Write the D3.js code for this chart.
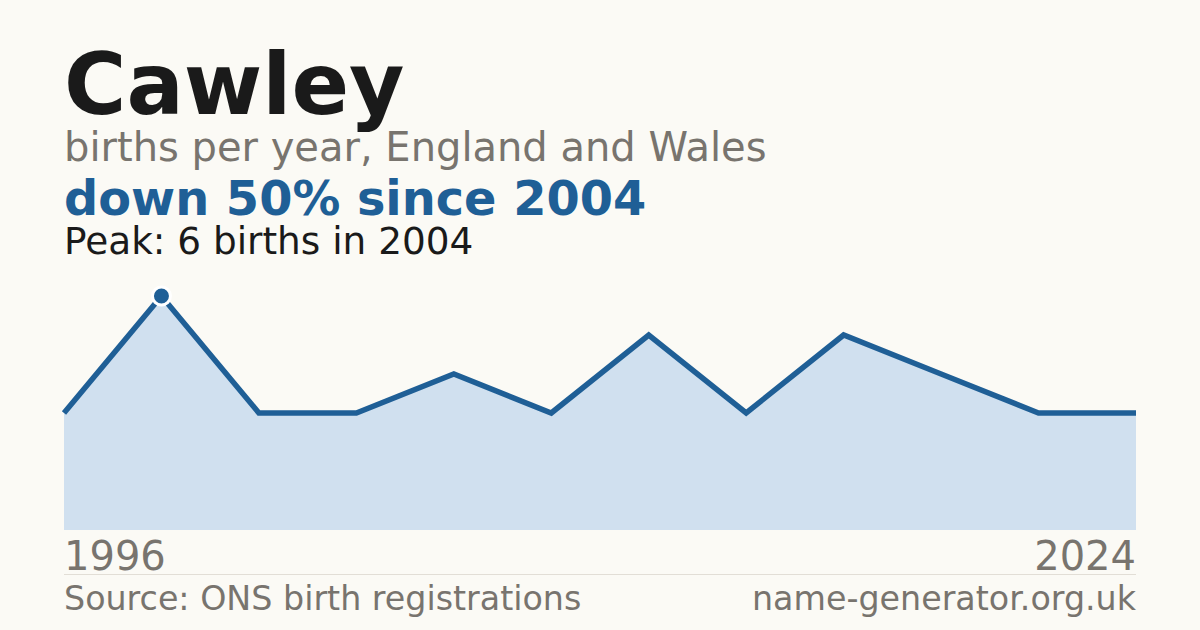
<!DOCTYPE html>
<html>
<head>
<meta charset="utf-8">
<script src="https://cdn.jsdelivr.net/npm/d3@7"></script>
<style>
  html, body { margin: 0; padding: 0; background: #fbfaf5; }
  svg { display: block; font-family: "DejaVu Sans", sans-serif; }
</style>
</head>
<body>
<div class="chart"></div>
<script>
// years with registered births (index-spaced, as in the original)
const years = [1996, 2004, 2006, 2008, 2010, 2012, 2014, 2016, 2018, 2020, 2022, 2024];
const births = [3, 6, 3, 3, 4, 3, 5, 3, 5, 4, 3, 3];
const axisLabels = ['1996', '2024'];

const width = 1200;
const height = 630;
const margin = { top: 296, right: 64, bottom: 100, left: 64 };

const data = years.map((year, i) => ({ year, value: births[i] }));
const peak = data.reduce((a, b) => (b.value > a.value ? b : a));

const svg = d3.select('.chart')
  .append('svg')
  .attr('width', width)
  .attr('height', height)
  .attr('viewBox', [0, 0, width, height]);

svg.append('rect')
  .attr('width', width)
  .attr('height', height)
  .attr('fill', '#fbfaf5');

const x = d3.scalePoint()
  .domain(d3.range(data.length))
  .range([margin.left, width - margin.right]);

const y = d3.scaleLinear()
  .domain([0, d3.max(births)])
  .range([height - margin.bottom, margin.top]);

// header text
svg.append('text')
  .attr('x', 64).attr('y', 114)
  .attr('font-size', 85).attr('font-weight', 'bold')
  .attr('fill', '#1a1a1a')
  .text('Cawley');

svg.append('text')
  .attr('x', 64).attr('y', 161)
  .attr('font-size', 40)
  .attr('fill', '#78746e')
  .text('births per year, England and Wales');

svg.append('text')
  .attr('x', 64).attr('y', 215)
  .attr('font-size', 47.8).attr('font-weight', 'bold')
  .attr('fill', '#1f5f96')
  .text(`down ${Math.round((1 - births[births.length - 1] / peak.value) * 100)}% since ${peak.year}`);

svg.append('text')
  .attr('x', 64).attr('y', 254)
  .attr('font-size', 37.4)
  .attr('fill', '#1a1a1a')
  .text(`Peak: ${peak.value} births in ${peak.year}`);

// area + line
const area = d3.area()
  .x((d, i) => x(i))
  .y0(y(0))
  .y1((d) => y(d.value));

const line = d3.line()
  .x((d, i) => x(i))
  .y((d) => y(d.value));

svg.append('path')
  .datum(data)
  .attr('fill', '#d0e0ef')
  .attr('d', area);

svg.append('path')
  .datum(data)
  .attr('fill', 'none')
  .attr('stroke', '#1f5f96')
  .attr('stroke-width', 5.5)
  .attr('d', line);

svg.append('circle')
  .attr('cx', x(data.indexOf(peak)))
  .attr('cy', y(peak.value))
  .attr('r', 9)
  .attr('fill', '#1f5f96')
  .attr('stroke', '#ffffff')
  .attr('stroke-width', 3);

// x labels
svg.append('text')
  .attr('x', x(0)).attr('y', 570)
  .attr('font-size', 40)
  .attr('fill', '#78746e')
  .text(axisLabels[0]);

svg.append('text')
  .attr('x', x(data.length - 1)).attr('y', 570)
  .attr('font-size', 40)
  .attr('text-anchor', 'end')
  .attr('fill', '#78746e')
  .text(axisLabels[1]);

svg.append('line')
  .attr('x1', 64).attr('x2', width - 64)
  .attr('y1', 574.5).attr('y2', 574.5)
  .attr('stroke', '#e2ded6')
  .attr('stroke-width', 1);

// footer
svg.append('text')
  .attr('x', 64).attr('y', 610)
  .attr('font-size', 33.3)
  .attr('fill', '#78746e')
  .text('Source: ONS birth registrations');

svg.append('text')
  .attr('x', width - 64).attr('y', 610)
  .attr('font-size', 33.3)
  .attr('text-anchor', 'end')
  .attr('fill', '#78746e')
  .text('name-generator.org.uk');
</script>
</body>
</html>
